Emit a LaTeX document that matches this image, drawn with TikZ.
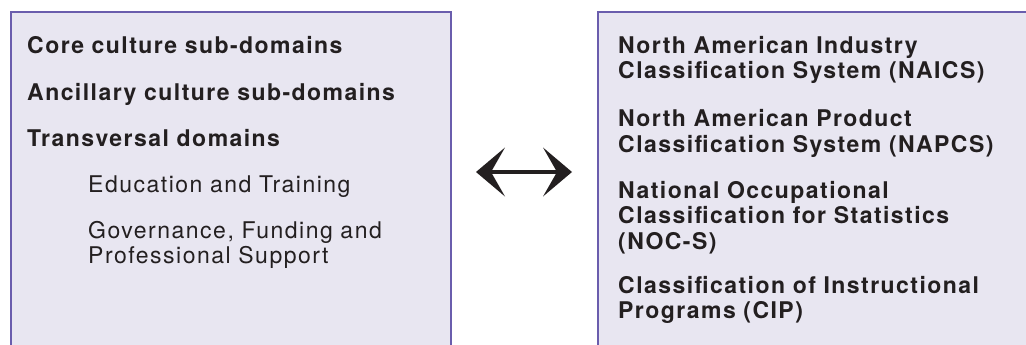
\documentclass[tikz,border=0pt]{standalone}
\usepackage{fontspec}
\setmainfont{TeX Gyre Heros}
\usetikzlibrary{arrows.meta}
\definecolor{panelfill}{HTML}{E8E6F1}
\definecolor{panelline}{HTML}{6A5DAD}
\definecolor{ink}{HTML}{231F20}
\begin{document}
\begin{tikzpicture}[x=1pt,y=-1pt]
        % Styles
        \tikzstyle{panel}=[fill=panelfill]
        \tikzstyle{panel edge}=[draw=panelline,line width=2pt]
        \tikzstyle{entry}=[anchor=base west,inner sep=0pt,text=ink,text width=420pt,align=left,
            font=\fontsize{23}{25.5}\selectfont\addfontfeature{LetterSpace=6.5}]
        \tikzstyle{heading}=[entry,font=\fontsize{23}{25.5}\selectfont\bfseries\addfontfeature{LetterSpace=6.3}]
        \tikzstyle{link}=[line width=4pt,{Stealth[length=29pt,width=49pt,inset=14pt,line width=0pt]}-{Stealth[length=29pt,width=49pt,inset=14pt,line width=0pt]}]
        \useasboundingbox (0,0) rectangle (1026,345);
        %panels
        \fill[panel] (11,12) rectangle (451,345);
        \draw[panel edge] (11,345) -- (11,12) -- (451,12) -- (451,345);
        \fill[panel] (598,12) rectangle (1026,345);
        \draw[panel edge] (598,345) -- (598,12) -- (1026,12);
        %culture domains
        \node[heading] (core) at (27,54) {Core culture sub-domains};
        \node[heading] (ancillary) at (27,100) {Ancillary culture sub-domains};
        \node[heading] (transversal) at (27,146) {Transversal domains};
        \node[entry] (education) at (88,192) {Education and Training};
        \node[entry] (governance) at (88,238.3) {Governance, Funding and\\Professional Support};
        %classification systems
        \node[heading] (naics) at (618,53.3) {North American Industry\\Classification System (NAICS)};
        \node[heading] (napcs) at (618,126.7) {North American Product\\Classification System (NAPCS)};
        \node[heading] (nocs) at (618,198.3) {National Occupational\\Classification for Statistics\\(NOC-S)};
        \node[heading] (cip) at (618,293.3) {Classification of Instructional\\Programs (CIP)};
        %arrow
        \coordinate (arrow west) at (476,172);
        \coordinate (arrow east) at (572,172);
        \draw[link,ink] (arrow west) -- (arrow east);
\end{tikzpicture}
\end{document}
